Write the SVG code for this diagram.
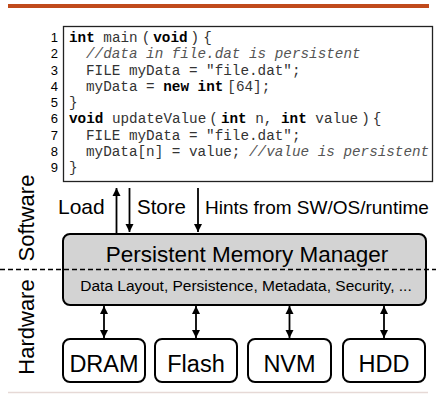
<svg xmlns="http://www.w3.org/2000/svg" width="436" height="402" viewBox="0 0 436 402">
<defs>
<style>
.code{font-family:"Liberation Mono","Courier New",monospace;font-size:14.3px;fill:#333}
.kw{font-weight:bold;fill:#000}
.cm{font-style:italic;fill:#555}
.ln{font-family:"Liberation Sans",Arial,sans-serif;font-size:13px;fill:#000;text-anchor:end}
.lbl{font-family:"Liberation Sans",Arial,sans-serif;fill:#000}
.big{font-family:"Liberation Sans",Arial,sans-serif;fill:#000;text-anchor:middle}
.small{font-family:"Liberation Sans",Arial,sans-serif;font-size:15.5px;fill:#000;text-anchor:middle}
.box{fill:#fff;stroke:#000;stroke-width:2}
.arr{stroke:#000;stroke-width:1.8;fill:none}
</style>
<marker id="ah" markerUnits="userSpaceOnUse" markerWidth="10" markerHeight="10" refX="8" refY="4" orient="auto-start-reverse" viewBox="0 0 10 8">
<path d="M0,0 L8,4 L0,8 Z" fill="#000"/>
</marker>
</defs>
<rect x="8" y="4" width="421" height="4" fill="#c04a1c"/>
<line x1="8" y1="392.5" x2="428" y2="392.5" stroke="#e6d9d6" stroke-width="1.5"/>

<g id="code">
<rect x="63.5" y="26.5" width="369" height="155" fill="#fff" stroke="#222" stroke-width="1.3"/>
<text class="ln" x="58" y="42">1</text>
<text class="ln" x="58" y="58.25">2</text>
<text class="ln" x="58" y="74.5">3</text>
<text class="ln" x="58" y="90.75">4</text>
<text class="ln" x="58" y="107">5</text>
<text class="ln" x="58" y="123.25">6</text>
<text class="ln" x="58" y="139.5">7</text>
<text class="ln" x="58" y="155.75">8</text>
<text class="ln" x="58" y="172">9</text>
<text class="code" x="69" y="42"><tspan class="kw">int</tspan> main<tspan dx="4">(</tspan><tspan class="kw" dx="3">void</tspan><tspan dx="3">)</tspan><tspan dx="4">{</tspan></text>
<text class="code cm" x="86" y="58.25">//data in file.dat is persistent</text>
<text class="code" x="86" y="74.5">FILE myData = "file.dat";</text>
<text class="code" x="86" y="90.75">myData = <tspan class="kw">new</tspan> <tspan class="kw">int</tspan><tspan dx="4">[64];</tspan></text>
<text class="code" x="69" y="107">}</text>
<text class="code" x="69" y="123.25"><tspan class="kw">void</tspan> updateValue<tspan dx="3">(</tspan><tspan class="kw" dx="3">int</tspan> n, <tspan class="kw">int</tspan> value<tspan dx="3">)</tspan><tspan dx="3">{</tspan></text>
<text class="code" x="86" y="139.5">FILE myData = "file.dat";</text>
<text class="code" x="86" y="155.75">myData[n] = value; <tspan class="cm">//value is persistent</tspan></text>
<text class="code" x="69" y="172">}</text>
</g>

<g id="layer-labels">
<text class="lbl" transform="translate(34,218) rotate(-90)" text-anchor="middle" style="font-size:22px">Software</text>
<text class="lbl" transform="translate(34,327) rotate(-90)" text-anchor="middle" style="font-size:22px">Hardware</text>
</g>

<g id="pmm">
<rect x="63" y="234" width="363" height="71" rx="7" fill="#d3d3d3" stroke="#000" stroke-width="2"/>
<text class="big" x="247" y="262" style="font-size:22.5px">Persistent Memory Manager</text>
<text class="small" x="246" y="291">Data Layout, Persistence, Metadata, Security, ...</text>
</g>

<line x1="0" y1="269.5" x2="436" y2="269.5" stroke="#000" stroke-width="1.5" stroke-dasharray="5 3"/>

<g id="dram"><rect class="box" x="63" y="339" width="82" height="43" rx="7"/><text class="big" x="104" y="372" style="font-size:23.5px">DRAM</text></g>
<g id="flash"><rect class="box" x="155" y="339" width="82" height="43" rx="7"/><text class="big" x="196" y="372" style="font-size:23.5px">Flash</text></g>
<g id="nvm"><rect class="box" x="248" y="339" width="83" height="43" rx="7"/><text class="big" x="289.5" y="372" style="font-size:23.5px">NVM</text></g>
<g id="hdd"><rect class="box" x="343" y="339" width="82" height="43" rx="7"/><text class="big" x="384" y="372" style="font-size:23.5px">HDD</text></g>

<g id="connectors">
<line class="arr" x1="116.5" y1="233" x2="116.5" y2="188" marker-end="url(#ah)"/>
<line class="arr" x1="129.5" y1="188" x2="129.5" y2="232" marker-end="url(#ah)"/>
<line class="arr" x1="198" y1="188" x2="198" y2="232" marker-end="url(#ah)"/>
<line class="arr" x1="104" y1="306" x2="104" y2="338" marker-start="url(#ah)" marker-end="url(#ah)"/>
<line class="arr" x1="196" y1="306" x2="196" y2="338" marker-start="url(#ah)" marker-end="url(#ah)"/>
<line class="arr" x1="289.5" y1="306" x2="289.5" y2="338" marker-start="url(#ah)" marker-end="url(#ah)"/>
<line class="arr" x1="384" y1="306" x2="384" y2="338" marker-start="url(#ah)" marker-end="url(#ah)"/>
</g>

<g id="arrow-labels">
<text class="lbl" x="58" y="214" style="font-size:21px">Load</text>
<text class="lbl" x="137" y="214" style="font-size:20.5px">Store</text>
<text class="lbl" x="205" y="214" style="font-size:19px">Hints from SW/OS/runtime</text>
</g>
</svg>
